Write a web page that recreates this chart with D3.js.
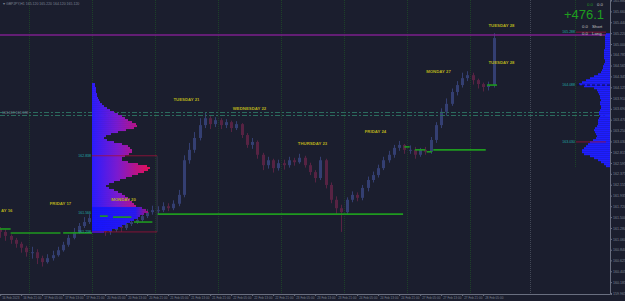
<!DOCTYPE html>
<html>
<head>
<meta charset="utf-8">
<script src="https://cdn.jsdelivr.net/npm/d3@7"></script>
<style>
html,body{margin:0;padding:0;background:#1b1e2e;}
svg{display:block;font-family:"Liberation Sans",Arial,sans-serif;}
</style>
</head>
<body>
<div id="chart"></div>
<script>
// GBPJPY H1, 2h candles (open = previous close)
var firstOpen = 161.26;
var closes = [161.20,161.12,161.04,160.96,160.88,160.79,
  160.79,160.67,160.59,160.67,160.73,160.83,160.94,161.08,161.20,161.32,161.40,161.48,
  161.34,161.28,161.20,161.24,161.32,161.28,161.36,161.40,161.44,161.52,161.60,161.64,
  161.64,161.72,161.68,161.77,161.95,162.65,162.86,163.10,163.36,163.50,163.38,163.46,
  163.36,163.42,163.30,163.38,163.16,162.96,163.02,162.76,162.55,162.65,162.49,162.59,
  162.55,162.65,162.61,162.70,162.55,162.41,162.29,162.65,162.15,161.85,161.68,161.60,
  161.85,161.95,161.89,162.09,162.25,162.35,162.49,162.65,162.76,162.90,162.96,162.86,
  162.86,162.76,162.86,162.82,163.06,163.36,163.63,163.79,164.03,164.17,164.31,164.37,
  164.27,164.19,164.13,164.17,165.12];
var highs = [161.30,161.25,161.15,161.08,161.00,160.92,
  160.90,160.85,160.72,160.75,160.82,160.90,161.00,161.14,161.28,161.38,161.50,161.56,
  161.52,161.40,161.33,161.30,161.38,161.40,161.42,161.47,161.50,161.58,161.66,161.73,
  161.72,161.80,161.78,161.84,162.05,162.75,163.00,163.22,163.50,163.62,163.56,163.52,
  163.50,163.48,163.45,163.44,163.40,163.20,163.10,163.05,162.80,162.72,162.68,162.66,
  162.66,162.72,162.70,162.78,162.74,162.60,162.45,162.72,162.68,162.20,161.92,161.75,
  161.90,162.02,162.00,162.15,162.32,162.42,162.56,162.72,162.84,162.96,163.04,162.98,
  162.95,162.92,162.90,162.92,163.12,163.42,163.70,163.90,164.10,164.25,164.42,164.45,
  164.42,164.30,164.22,164.24,165.22];
var lows = [161.08,161.02,160.96,160.88,160.78,160.70,
  160.66,160.55,160.50,160.56,160.62,160.70,160.80,160.90,161.05,161.16,161.28,161.36,
  161.25,161.18,161.12,161.14,161.20,161.20,161.24,161.32,161.36,161.40,161.48,161.55,
  161.55,161.60,161.62,161.64,161.72,161.90,162.58,162.80,163.05,163.30,163.28,163.32,
  163.28,163.30,163.22,163.26,163.10,162.90,162.88,162.68,162.45,162.48,162.40,162.44,
  162.46,162.50,162.54,162.58,162.50,162.35,162.20,162.25,162.08,161.78,161.55,161.20,
  161.55,161.80,161.82,161.84,162.02,162.20,162.30,162.45,162.60,162.70,162.84,162.78,
  162.78,162.68,162.72,162.76,162.78,163.00,163.30,163.55,163.75,163.96,164.12,164.25,
  164.18,164.10,164.04,164.06,164.12];

// day labels (hour of day centre, label price)
var dayNames = ["AY 16","FRIDAY 17","MONDAY 20","TUESDAY 21","WEDNESDAY 22","THURSDAY 23","FRIDAY 24","MONDAY 27","TUESDAY 28","TUESDAY 28"];
var dayMid = [3.5,24,48,72,96,120,144,168,192,192];
var dayLabelPrice = [161.64,161.78,161.86,163.87,163.69,162.98,163.24,164.45,164.62,165.38];
var daySeps = [12,36,60,84,108,132,156,180];
var nextDaySep = 204;

// daily POC segments (start hour, end hour, price)
var pocFrom = [0.9,5,25,39,44,52,61,155,159,163.5,166,186.5];
var pocTo = [5,24,36,42,51,59,154.5,157,163,165.5,186,190.3];
var pocPrice = [161.26,161.18,161.18,161.52,161.50,161.40,161.56,162.92,162.86,162.82,162.86,164.17];

// axis ticks
var priceTicks = [159.965,160.185,160.405,160.625,160.840,161.060,161.280,161.500,161.720,161.935,
  162.155,162.375,162.595,162.815,163.030,163.250,163.470,163.690,163.910,164.125,
  164.345,164.565,164.785,165.000,165.220,165.440,165.660,165.880];
var timeHours = [1,9,17,25,33,41,49,57,65,73,81,89,97,105,113,121,129,137,145,153,161,169,177,185];
var timeLabels = ["16 Feb 2023","16 Feb 21:00","17 Feb 05:00","17 Feb 13:00","17 Feb 21:00",
  "20 Feb 05:00","20 Feb 13:00","20 Feb 21:00","21 Feb 05:00","21 Feb 13:00","21 Feb 21:00",
  "22 Feb 05:00","22 Feb 13:00","22 Feb 21:00","23 Feb 05:00","23 Feb 13:00","23 Feb 21:00",
  "24 Feb 05:00","24 Feb 13:00","24 Feb 21:00","27 Feb 05:00","27 Feb 13:00","27 Feb 21:00","28 Feb 05:00"];

// volume profiles (bottom row price, row step, volumes bottom->top)
var leftProfileBase = 161.20, rightProfileBase = 162.53, profileStep = 0.0404;
var leftProfile = [12,20,26,30,34,38,42,46,48,52,56,54,50,44,42,40,38,36,33,30,
  26,22,17,14,17,22,28,34,40,46,52,56,58,55,46,36,30,30,33,37,
  40,40,38,36,30,22,15,12,14,19,26,34,42,45,44,40,36,33,30,26,
  22,18,15,12,10,8,7,6,5,5,4,4,4,3,3];
var rightProfile = [4,6,9,12,16,20,26,28,28,26,24,22,20,17,14,13,14,15,16,15,
  13,12,12,12,11,10,11,11,10,9,9,10,10,9,10,10,11,12,13,16,
  26,31,28,24,20,16,12,9,8,7,7,6,5,5,6,6,6,6,6,5,
  5,5,5,5,5,5,4];
var leftSplit = 161.70;           // rows below: current session block
var leftLevels = [162.74,161.58,161.20], leftLevelText = ["162.838","161.566","161.238"];
var rightLevels = [165.24,164.17,163.02], rightLevelText = ["165.288","164.088","163.030"];
var lastPrice = 165.18;
var bandLines = [163.625,163.565];

var width = 625, height = 301,
    plotW = 610, plotH = 294;

var svg = d3.select("#chart").append("svg")
    .attr("width", width)
    .attr("height", height);

var defs = svg.append("defs");
defs.append("clipPath").attr("id","plotclip")
  .append("rect").attr("width",plotW).attr("height",plotH);

var x = d3.scaleLinear().domain([0,190]).range([-2.5,496.25]);
var y = d3.scaleLinear().domain([159.945,165.89]).range([plotH,0]);
var vol = d3.scaleLinear().domain([0,60]).range([0,60]);

svg.append("rect").attr("width",width).attr("height",height).attr("fill","#1b1e2e");

var plot = svg.append("g").attr("clip-path","url(#plotclip)");

// day separators
plot.selectAll(".sep").data(daySeps).enter().append("line")
    .attr("x1",function(d){return Math.round(x(d))+0.5;})
    .attr("x2",function(d){return Math.round(x(d))+0.5;})
    .attr("y1",0).attr("y2",plotH)
    .attr("stroke","#1d4228").attr("stroke-dasharray","1,1");
plot.append("line")
    .attr("x1",Math.round(x(nextDaySep))-2.5).attr("x2",Math.round(x(nextDaySep))-2.5)
    .attr("y1",0).attr("y2",plotH)
    .attr("stroke","#434857").attr("stroke-dasharray","1,1");
plot.append("line")
    .attr("x1",575.5).attr("x2",575.5).attr("y1",0).attr("y2",y(162.49))
    .attr("stroke","#1d4228").attr("stroke-dasharray","1,1");

// candles
var bars = closes.map(function(c,i){
    return {t:2*i+1, o:(i==0?firstOpen:closes[i-1]), h:highs[i], l:lows[i], c:c};
});
var candles = plot.selectAll(".candle").data(bars).enter().append("g").attr("class","candle");
candles.append("line")
    .attr("x1",function(d){return Math.round(x(d.t))+0.5;})
    .attr("x2",function(d){return Math.round(x(d.t))+0.5;})
    .attr("y1",function(d){return y(d.h);})
    .attr("y2",function(d){return y(d.l);})
    .attr("stroke",function(d){return d.c>=d.o?"#343f72":"#572343";});
candles.append("rect")
    .attr("x",function(d){return Math.round(x(d.t))-1;})
    .attr("width",3)
    .attr("y",function(d){return y(Math.max(d.o,d.c));})
    .attr("height",function(d){return Math.max(1,Math.abs(y(d.o)-y(d.c)));})
    .attr("fill",function(d){return d.c>=d.o?"#343f72":"#572343";});

// band lines (dash-dot)
plot.selectAll(".band").data(bandLines).enter().append("line")
    .attr("x1",0).attr("x2",plotW)
    .attr("y1",function(d){return Math.round(y(d))+0.5;})
    .attr("y2",function(d){return Math.round(y(d))+0.5;})
    .attr("stroke","#2c6b5e").attr("stroke-dasharray","5,2,2,2");

// last price line
plot.append("line")
    .attr("x1",0).attr("x2",plotW)
    .attr("y1",y(lastPrice)).attr("y2",y(lastPrice))
    .attr("stroke","#7d1f8c").attr("stroke-width",1.5);

// left volume profile
var grad = defs.append("linearGradient").attr("id","lp")
    .attr("gradientUnits","userSpaceOnUse")
    .attr("x1",x(36)).attr("x2",x(36)+56).attr("y1",0).attr("y2",0);
grad.append("stop").attr("offset","0").attr("stop-color","#2a1cff");
grad.append("stop").attr("offset","0.45").attr("stop-color","#7a1ad0");
grad.append("stop").attr("offset","1").attr("stop-color","#e0105a");
var grad2 = defs.append("linearGradient").attr("id","lpb")
    .attr("gradientUnits","userSpaceOnUse")
    .attr("x1",x(36)).attr("x2",x(36)+58).attr("y1",0).attr("y2",0);
grad2.append("stop").attr("offset","0").attr("stop-color","#1414ff");
grad2.append("stop").attr("offset","0.75").attr("stop-color","#2a18f0");
grad2.append("stop").attr("offset","1").attr("stop-color","#c0106a");

plot.selectAll(".lrow").data(leftProfile).enter().append("rect")
    .attr("x",x(36))
    .attr("y",function(d,i){return y(leftProfileBase+(i+0.5)*profileStep);})
    .attr("width",function(d){return vol(d);})
    .attr("height",y(0)-y(profileStep))
    .attr("fill",function(d,i){return leftProfileBase+i*profileStep<leftSplit?"url(#lpb)":"url(#lp)";});

// value box + levels
plot.append("line")
    .attr("x1",x(60.8)).attr("x2",x(60.8))
    .attr("y1",y(leftLevels[0])).attr("y2",y(leftLevels[2]))
    .attr("stroke","#454a5a").attr("stroke-width",0.6);
plot.selectAll(".llev").data([leftLevels[0],leftLevels[2]]).enter().append("line")
    .attr("x1",x(36)).attr("x2",x(60.8))
    .attr("y1",function(d){return y(d);}).attr("y2",function(d){return y(d);})
    .attr("stroke","#a0103a").attr("stroke-width",0.8);

// right volume profile
plot.selectAll(".rrow").data(rightProfile).enter().append("rect")
    .attr("x",function(d){return plotW-vol(d);})
    .attr("y",function(d,i){return y(rightProfileBase+(i+0.5)*profileStep);})
    .attr("width",function(d){return vol(d);})
    .attr("height",y(0)-y(profileStep))
    .attr("fill","#1e1eff");
plot.append("line")
    .attr("x1",577).attr("x2",plotW).attr("y1",y(rightLevels[1])).attr("y2",y(rightLevels[1]))
    .attr("stroke","#0c0c40").attr("stroke-dasharray","3,2");
plot.selectAll(".rlev").data([rightLevels[0],rightLevels[2]]).enter().append("line")
    .attr("x1",576).attr("x2",plotW-4)
    .attr("y1",function(d){return y(d);}).attr("y2",function(d){return y(d);})
    .attr("stroke","#a0103a").attr("stroke-width",0.8);

// POC segments
plot.selectAll(".poc").data(pocPrice).enter().append("line")
    .attr("x1",function(d,i){return x(pocFrom[i]);})
    .attr("x2",function(d,i){return x(pocTo[i]);})
    .attr("y1",function(d){return y(d);}).attr("y2",function(d){return y(d);})
    .attr("stroke","#1f9a1f").attr("stroke-width",1.6);

// level labels (cyan)
plot.selectAll(".ltxt").data(leftLevels).enter().append("text")
    .attr("x",x(36)-1).attr("y",function(d){return y(d)+1.2;})
    .attr("text-anchor","end").attr("font-size","3.5px").attr("fill","#22a8a8")
    .text(function(d,i){return leftLevelText[i];});
plot.selectAll(".rtxt").data(rightLevels).enter().append("text")
    .attr("x",575).attr("y",function(d){return y(d)+1.2;})
    .attr("text-anchor","end").attr("font-size","3.5px").attr("fill","#22a8a8")
    .text(function(d,i){return rightLevelText[i];});

// day labels
plot.selectAll(".day").data(dayNames).enter().append("text")
    .attr("x",function(d,i){return x(dayMid[i]);})
    .attr("y",function(d,i){return y(dayLabelPrice[i])+1.5;})
    .attr("text-anchor","middle").attr("font-size","4.3px").attr("font-weight","bold")
    .attr("fill","#b8b01c")
    .text(function(d){return d;});

// band label
plot.append("text").attr("x",2).attr("y",y(bandLines[0])+1.5)
    .attr("font-size","3.5px").attr("fill","#7d8293").text("163.619  163.598");

// axes
var yAxis = d3.axisRight(y).tickValues(priceTicks).tickFormat(d3.format(".3f")).tickSize(2).tickPadding(1);
var ga = svg.append("g").attr("transform","translate("+plotW+",0)").call(yAxis);
ga.select(".domain").attr("stroke","#6a6f80");
ga.selectAll(".tick line").attr("stroke","#6a6f80");
ga.selectAll("text").attr("fill","#7d8293").attr("font-size","3.6px");

var xAxis = d3.axisBottom(x).tickValues(timeHours)
    .tickFormat(function(d,i){return timeLabels[i];}).tickSize(2);
var gx = svg.append("g").attr("transform","translate(0,"+plotH+")").call(xAxis);
gx.select(".domain").attr("d","M0,0.5H"+plotW).attr("stroke","#6a6f80");
gx.selectAll(".tick line").attr("stroke","#6a6f80");
gx.selectAll("text").attr("fill","#7d8293").attr("font-size","3.1px")
    .attr("text-anchor","start").attr("x",1.5).attr("y",2.5).attr("dy","0.75em");

// header
svg.append("text").attr("x",3).attr("y",5).attr("font-size","3.5px").attr("fill","#7d8293")
    .text("\u25BE GBPJPY,H1  165.120 165.220 164.120 165.120");

// trade panel
var panel = svg.append("g");
panel.append("text").attr("x",587).attr("y",6).attr("font-size","4.3px").attr("fill","#1f9a1f").text("0.0");
panel.append("text").attr("x",597).attr("y",6).attr("font-size","4.3px").attr("fill","#c0c0c0").text("0.0");
panel.append("text").attr("x",604).attr("y",18.5).attr("text-anchor","end")
    .attr("font-size","13px").attr("fill","#1e9e1e").text("+476.1");
panel.append("text").attr("x",582).attr("y",28).attr("font-size","4.3px").attr("fill","#c0c0c0").text("0.0");
panel.append("text").attr("x",592).attr("y",28).attr("font-size","4.3px").attr("fill","#c0c0c0").text("Short");
panel.append("text").attr("x",582).attr("y",34.5).attr("font-size","4.3px").attr("fill","#c0c0c0").text("0.0");
panel.append("text").attr("x",592).attr("y",34.5).attr("font-size","4.3px").attr("fill","#c0c0c0").text("Long");
</script>
</body>
</html>
